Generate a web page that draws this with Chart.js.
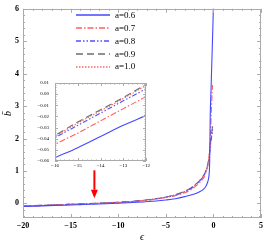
<!DOCTYPE html>
<html><head><meta charset="utf-8">
<script src="https://cdn.jsdelivr.net/npm/chart.js@4/dist/chart.umd.min.js"></script>
<style>
html,body{margin:0;padding:0;background:#fff;}
#wrap{position:relative;width:273px;height:245px;}
#main{position:absolute;left:0;top:0;}
#inset{position:absolute;left:30px;top:74px;}
</style></head>
<body><div id="wrap"><canvas id="main" width="273" height="245"></canvas><canvas id="inset" width="122" height="100"></canvas></div>
<script>
// ---- data ----
const labels = ["a=0.6","a=0.7","a=0.8","a=0.9","a=1.0"];
const eps06 = [-20,-18,-16,-15,-14,-13,-12,-10,-8,-6,-5,-4,-3,-2,-1.5,-1,-0.77,-0.6,-0.49,-0.42,-0.39,-0.36,-0.34,-0.25,-0.15,-0.05,0.01];
const b06   = [-0.095,-0.076,-0.057,-0.048,-0.038,-0.028,-0.019,0.005,0.035,0.075,0.105,0.145,0.21,0.29,0.35,0.45,0.54,0.66,0.8,1.02,1.3,1.95,2.55,3.5,4.5,5.5,6.2];
const eps07 = [-20,-18,-16,-15,-14,-13,-12,-10,-8,-6,-5,-4,-3,-2.5,-2,-1.5,-1.2,-1,-0.8,-0.6,-0.45,-0.35,-0.28,-0.22,-0.16,-0.12,-0.09];
const b07   = [-0.09,-0.068,-0.045,-0.035,-0.024,-0.013,-0.002,0.025,0.065,0.13,0.18,0.24,0.33,0.4,0.5,0.62,0.72,0.8,0.94,1.15,1.45,1.85,2.35,2.85,3.25,3.5,3.65];
const eps08 = [-20,-18,-16,-15,-14,-13,-12,-10,-8,-6,-5,-4,-3,-2.5,-2,-1.5,-1.2,-1,-0.8,-0.6,-0.45,-0.3,-0.2,-0.12,-0.08];
const b08   = [-0.085,-0.062,-0.039,-0.028,-0.017,-0.006,0.005,0.032,0.072,0.14,0.19,0.26,0.36,0.43,0.54,0.67,0.77,0.85,0.98,1.17,1.4,1.82,2.02,2.18,2.28];
const eps09 = [-20,-18,-16,-15,-14,-13,-12,-10,-8,-6,-5,-4,-3,-2.5,-2,-1.5,-1.2,-1,-0.8,-0.6,-0.45,-0.3,-0.2,-0.12,-0.07];
const b09   = [-0.083,-0.06,-0.037,-0.025,-0.014,-0.003,0.009,0.036,0.077,0.15,0.2,0.27,0.38,0.45,0.56,0.69,0.8,0.88,1.0,1.2,1.44,1.9,2.12,2.32,2.45];
const eps10 = [-20,-18,-16,-15,-14,-13,-12,-10,-8,-6,-5,-4,-3,-2.5,-2,-1.5,-1.2,-1,-0.8,-0.6,-0.45,-0.3,-0.2,-0.12,-0.07];
const b10   = [-0.084,-0.061,-0.038,-0.026,-0.015,-0.004,0.008,0.035,0.075,0.145,0.195,0.265,0.37,0.44,0.55,0.68,0.79,0.87,0.99,1.19,1.42,1.87,2.1,2.28,2.4];
const xTicksMain = [-20,-15,-10,-5,0,5];
const yTicksMain = [0,1,2,3,4,5,6];
const xTicksInset = [-16,-15,-14,-13,-12];
const yTicksInset = [-0.06,-0.05,-0.04,-0.03,-0.02,-0.01,0.00,0.01];
// arrow annotation (data coordinates)
const arrowEps = -12.5, arrowFrom = 1.02, arrowHead = 0.42, arrowTo = 0.16;

const styles = [
  {color:'rgb(70,70,255)', dash:[]},
  {color:'rgb(255,95,95)', dash:[6,2,1.5,2]},
  {color:'rgb(80,80,255)', dash:[5,2,1.5,2,1.5,2]},
  {color:'rgb(110,110,110)', dash:[7,4]},
  {color:'rgb(255,100,100)', dash:[1.5,1.5]}
];
const series = [[eps06,b06],[eps07,b07],[eps08,b08],[eps09,b09],[eps10,b10]];
function makeDatasets(){
  return series.map((s,i)=>({
    label: labels[i],
    data: s[0].map((x,j)=>({x:x,y:s[1][j]})),
    borderColor: styles[i].color,
    borderDash: styles[i].dash,
    borderWidth: 1.1,
    pointRadius: 0,
    fill:false,
    cubicInterpolationMode:'monotone'
  }));
}
const minus = v => String(v).replace('-', '\u2212');

const frameTicks = {
  id:'frameTicks',
  afterDatasetsDraw(chart, args, o){
    const ctx = chart.ctx, a = chart.chartArea, xs = chart.scales.x, ys = chart.scales.y;
    ctx.save();
    ctx.strokeStyle = o.color; ctx.lineWidth = 1; ctx.setLineDash([]);
    ctx.strokeRect(Math.round(a.left)+0.5, Math.round(a.top)+0.5, Math.round(a.right-a.left)-1, Math.round(a.bottom-a.top)-1);
    const n = s => Math.round(s);
    let nx = n((xs.max-xs.min)/o.xMinor);
    for(let i=0;i<=nx;i++){
      const v = xs.min + i*o.xMinor;
      const isMaj = Math.abs(v/o.xMajor - Math.round(v/o.xMajor))<1e-6;
      const L = isMaj?o.majLen:o.minLen;
      const px = Math.round(xs.getPixelForValue(v))+0.5;
      ctx.beginPath(); ctx.moveTo(px,a.bottom); ctx.lineTo(px,a.bottom-L);
      ctx.moveTo(px,a.top); ctx.lineTo(px,a.top+L); ctx.stroke();
    }
    let ny = n((ys.max-ys.min)/o.yMinor);
    const y0 = Math.ceil(ys.min/o.yMinor - 1e-6)*o.yMinor;
    for(let i=0;i<=ny+1;i++){
      const v = y0 + i*o.yMinor;
      if (v > ys.max + 1e-9) break;
      const isMaj = Math.abs(v/o.yMajor - Math.round(v/o.yMajor))<1e-6;
      const L = isMaj?o.majLen:o.minLen;
      const py = Math.round(ys.getPixelForValue(v))+0.5;
      ctx.beginPath(); ctx.moveTo(a.left,py); ctx.lineTo(a.left+L,py);
      ctx.moveTo(a.right,py); ctx.lineTo(a.right-L,py); ctx.stroke();
    }
    ctx.restore();
  }
};
const whiteArea = {
  id:'whiteArea',
  beforeDatasetsDraw(chart){
    const a = chart.chartArea, ctx = chart.ctx;
    ctx.save(); ctx.fillStyle='#fff'; ctx.fillRect(a.left,a.top,a.right-a.left,a.bottom-a.top); ctx.restore();
  }
};
const legendAndArrow = {
  id:'legendAndArrow',
  afterDatasetsDraw(chart){
    const ctx = chart.ctx, xs = chart.scales.x, ys = chart.scales.y;
    ctx.save();
    labels.forEach((lab,i)=>{
      const y = 15 + i*12.9;
      ctx.strokeStyle = styles[i].color; ctx.lineWidth = 1.4; ctx.setLineDash(styles[i].dash);
      ctx.beginPath(); ctx.moveTo(76,Math.round(y)); ctx.lineTo(110,Math.round(y)); ctx.stroke();
      ctx.fillStyle = '#000'; ctx.font = '9px "Liberation Serif"'; ctx.textBaseline='middle'; ctx.textAlign='left';
      ctx.fillText(lab, 115, y+0.5);
    });
    ctx.setLineDash([]);
    const ax = xs.getPixelForValue(arrowEps);
    const yTop = ys.getPixelForValue(arrowFrom), yHead = ys.getPixelForValue(arrowHead), yTip = ys.getPixelForValue(arrowTo);
    ctx.strokeStyle = 'rgb(255,0,0)'; ctx.fillStyle='rgb(255,0,0)'; ctx.lineWidth = 2;
    ctx.beginPath(); ctx.moveTo(ax,yTop); ctx.lineTo(ax,yHead); ctx.stroke();
    ctx.beginPath(); ctx.moveTo(ax-3.5,yHead); ctx.lineTo(ax+3.5,yHead); ctx.lineTo(ax,yTip); ctx.closePath(); ctx.fill();
    ctx.restore();
  }
};

new Chart(document.getElementById('main'), {
  type:'line',
  data:{datasets: makeDatasets()},
  options:{
    responsive:false, animation:false, devicePixelRatio:1,
    layout:{padding:{top:5,right:12,left:0,bottom:0}},
    plugins:{legend:{display:false}, tooltip:{enabled:false},
      frameTicks:{color:'#aaa', xMajor:5, xMinor:1, yMajor:1, yMinor:0.2, majLen:4, minLen:2}},
    scales:{
      x:{type:'linear', min:-20, max:5, afterFit(s){s.height=27;},
        afterBuildTicks(s){s.ticks = xTicksMain.map(v=>({value:v}));},
        grid:{display:false, drawTicks:false}, border:{display:false},
        ticks:{padding:3, color:'#000', font:{family:'Liberation Serif', weight:'bold', size:8}, callback:v=>minus(v), maxRotation:0},
        title:{display:true, text:'\u03f5', color:'#000', font:{family:'Liberation Serif', style:'italic', size:10}, padding:{top:0,bottom:2}}},
      y:{type:'linear', min:-0.45, max:6, afterFit(s){s.width=23;},
        afterBuildTicks(s){s.ticks = yTicksMain.map(v=>({value:v}));},
        grid:{display:false, drawTicks:false}, border:{display:false},
        ticks:{padding:4, color:'#000', font:{family:'Liberation Serif', weight:'bold', size:8}, callback:v=>minus(v)},
        title:{display:true, text:'b\u0304', color:'#000', font:{family:'Liberation Serif', style:'italic', size:10}, padding:{top:2,bottom:0}}}
    }
  },
  plugins:[frameTicks, legendAndArrow]
});

new Chart(document.getElementById('inset'), {
  type:'line',
  data:{datasets: makeDatasets()},
  options:{
    responsive:false, animation:false, devicePixelRatio:1,
    layout:{padding:{top:5,right:5,left:0,bottom:0}},
    plugins:{legend:{display:false}, tooltip:{enabled:false},
      frameTicks:{color:'#aaa', xMajor:1, xMinor:0.2, yMajor:0.01, yMinor:0.002, majLen:3, minLen:1.5}},
    scales:{
      x:{type:'linear', min:-16, max:-12, afterFit(s){s.height=13;},
        afterBuildTicks(s){s.ticks = xTicksInset.map(v=>({value:v}));},
        grid:{display:false, drawTicks:false}, border:{display:false},
        ticks:{padding:2, color:'#000', font:{family:'Liberation Serif', size:5}, callback:v=>minus(v), maxRotation:0}},
      y:{type:'linear', min:-0.06, max:0.01, afterFit(s){s.width=25;},
        afterBuildTicks(s){s.ticks = yTicksInset.map(v=>({value:v}));},
        grid:{display:false, drawTicks:false}, border:{display:false},
        ticks:{padding:6, color:'#000', font:{family:'Liberation Serif', size:5}, callback:v=>minus((Math.abs(v)<1e-9?0:v).toFixed(2))}}
    }
  },
  plugins:[whiteArea, frameTicks]
});
</script></body></html>
